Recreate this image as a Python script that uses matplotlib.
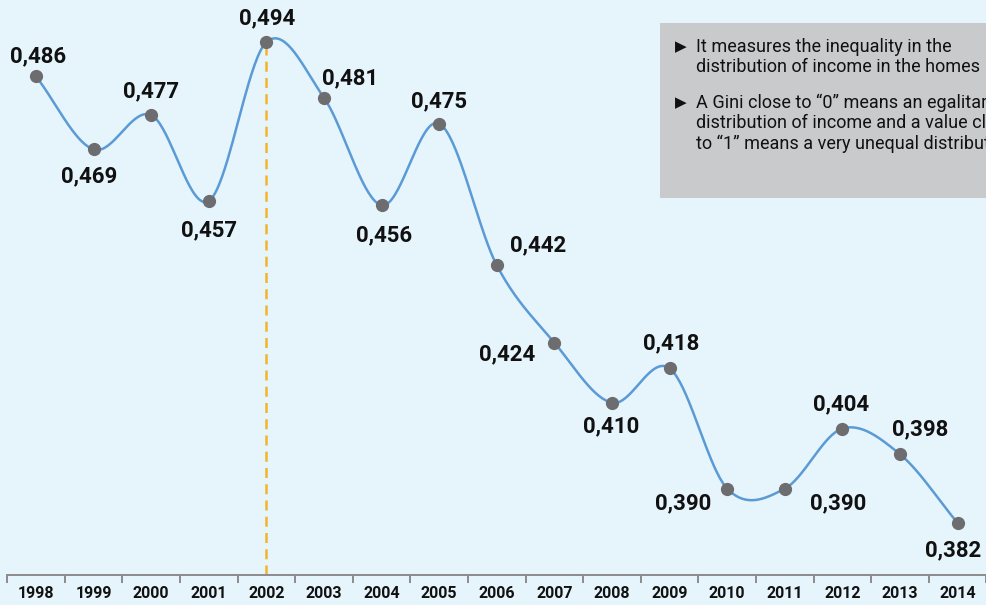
import matplotlib
matplotlib.use("Agg")
import matplotlib.pyplot as plt
import numpy as np

# Gini data, 1998-2014
years = ["1998", "1999", "2000", "2001", "2002", "2003", "2004", "2005", "2006",
         "2007", "2008", "2009", "2010", "2011", "2012", "2013", "2014"]
gini = [0.486, 0.469, 0.477, 0.457, 0.494, 0.481, 0.456, 0.475, 0.442,
        0.424, 0.410, 0.418, 0.390, 0.390, 0.404, 0.398, 0.382]
labels = ["0,486", "0,469", "0,477", "0,457", "0,494", "0,481", "0,456", "0,475", "0,442",
          "0,424", "0,410", "0,418", "0,390", "0,390", "0,404", "0,398", "0,382"]
# label offsets in pixels (dx, dy), dy positive = up
offsets = [(2, 20), (-4, -27), (0, 24), (0, -29), (1, 24), (26, 20), (2, -30), (0, 22), (41, 20),
           (-47, -12), (-1, -24), (2, 25), (-44, -15), (53, -15), (-1, 24), (20, 25), (-4, -27)]
note1 = "It measures the inequality in the\ndistribution of income in the homes"
note2 = "A Gini close to \u201c0\u201d means an egalitarian\ndistribution of income and a value close\nto \u201c1\u201d means a very unequal distribution"

BG = "#e6f4fc"
font = ["Roboto", "DejaVu Sans"]

def catmull(y, n=40):
    y = np.asarray(y, float)
    xs, ys = [], []
    for i in range(len(y) - 1):
        m0 = (y[i + 1] - y[i - 1]) / 2 if i > 0 else (y[1] - y[0])
        m1 = (y[i + 2] - y[i]) / 2 if i + 2 < len(y) else (y[-1] - y[-2])
        t = np.linspace(0, 1, n)
        h00 = 2 * t**3 - 3 * t**2 + 1
        h10 = t**3 - 2 * t**2 + t
        h01 = -2 * t**3 + 3 * t**2
        h11 = t**3 - t**2
        xs.append(i + t)
        ys.append(h00 * y[i] + h10 * m0 + h01 * y[i + 1] + h11 * m1)
    return np.concatenate(xs), np.concatenate(ys)

fig = plt.figure(figsize=(9.87, 6.05), dpi=100, facecolor=BG)
ax = fig.add_axes([0, 0, 1, 1], facecolor=BG)
x = np.arange(len(years))
base = 0.3699

# highlight 2002
i02 = years.index("2002")
ax.vlines(i02, base, gini[i02], colors="#f5b428", linewidth=1.8, linestyles=(0, (4, 2.5)), zorder=1)

sx, sy = catmull(gini)
ax.plot(sx, sy, color="#5b9bd5", linewidth=1.8, zorder=2)
ax.plot(x, gini, "o", color="#6d6d70", markersize=8.5, zorder=3)

for xi, yi, lab, (dx, dy) in zip(x, gini, labels, offsets):
    ax.annotate(lab, (xi, yi), xytext=(dx, dy), textcoords="offset pixels",
                ha="center", va="center", fontsize=16, fontweight="bold",
                family=font, color="#111111")

ax.set_xlim(-0.625, 16.51)
ax.set_ylim(0.3629, 0.5038)
for s in ["top", "left", "right"]:
    ax.spines[s].set_visible(False)
ax.spines["bottom"].set_position(("data", base))
ax.spines["bottom"].set_color("#8c8c8c")
ax.spines["bottom"].set_linewidth(1.4)
ax.spines["bottom"].set_bounds(-0.5, 17)
ax.set_yticks([])
ax.set_xticks(x)
ax.set_xticklabels(years, fontsize=11.5, fontweight="bold", family=font, color="#111111")
ax.set_xticks(np.arange(len(years) + 1) - 0.5, minor=True)
ax.tick_params(axis="x", which="major", length=0, pad=8)
ax.tick_params(axis="x", which="minor", length=6, width=1.4, color="#8c8c8c", direction="out")

# note box
fig.patches.append(plt.Rectangle((660 / 987, 1 - 198 / 605), 1, 175 / 605,
                                 transform=fig.transFigure, facecolor="#c9cacc",
                                 edgecolor="none", zorder=0))
for py, txt in [(47, note1), (103, note2)]:
    fig.text(675 / 987, 1 - py / 605, "\u25b6", fontsize=11, family=["DejaVu Sans"],
             ha="left", va="center", color="#111111")
    fig.text(696 / 987, 1 - (py - 9) / 605, txt, fontsize=13, family=font,
             ha="left", va="top", color="#111111", linespacing=1.15)

fig.savefig("out.png", dpi=100, facecolor=BG)
